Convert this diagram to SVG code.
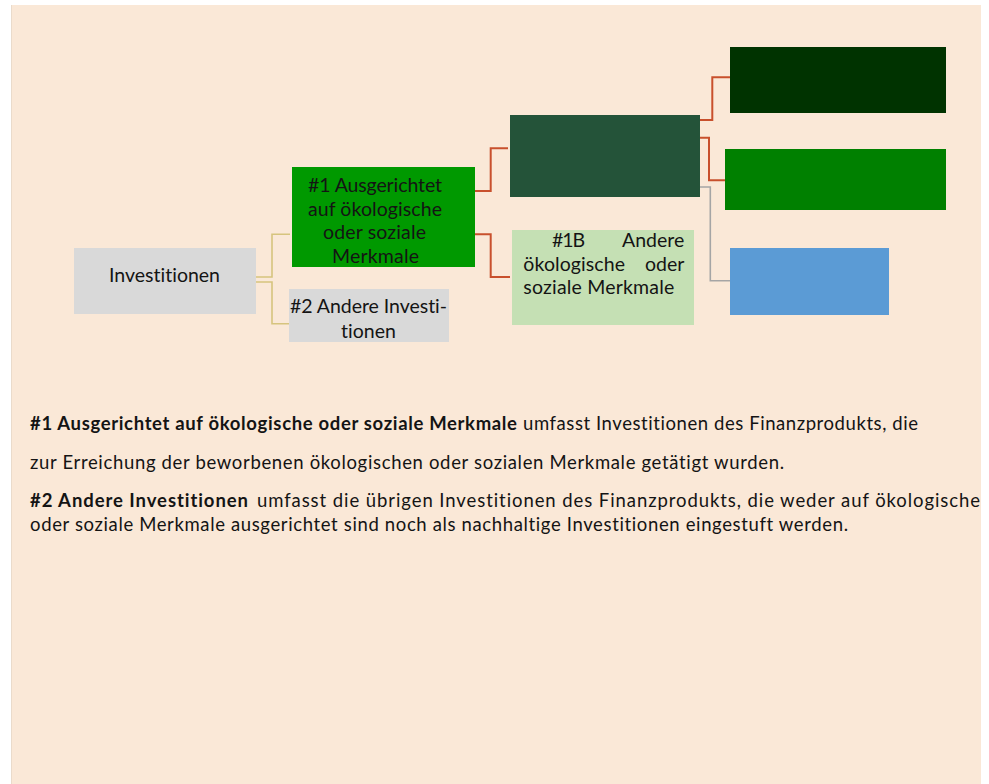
<svg xmlns="http://www.w3.org/2000/svg" width="989" height="784" viewBox="0 0 989 784">
<style>
.t{font-family:Lato,"Liberation Sans",sans-serif;fill:#141414;font-variant-ligatures:none}
.n{font-size:19.5px}
.p{font-size:18.5px}
.b{font-weight:bold}
.cr{fill:none;stroke:#C8502D;stroke-width:2}
.cy{fill:none;stroke:#D6C47E;stroke-width:1.6}
.cg{fill:none;stroke:#A5A5A5;stroke-width:1.6}
</style>
<rect x="0" y="0" width="989" height="784" fill="#ffffff"/>
<rect x="11" y="5" width="970" height="779" fill="#FAE8D7"/>
<line x1="11.5" y1="5" x2="11.5" y2="784" stroke="#EADBCB" stroke-width="1"/>
<g id="connectors">
<path class="cy" d="M256 277 H272 V234.3 H290"/>
<path class="cy" d="M256 282 H272 V323.7 H289"/>
<path class="cr" d="M475 191 H490.7 V148.3 H508"/>
<path class="cr" d="M475 234.3 H490.7 V277 H510"/>
<path class="cr" d="M700 120 H712.3 V77.3 H730"/>
<path class="cr" d="M700 137.7 H709 V180.3 H725"/>
<path class="cg" d="M700 187 H710.3 V280.7 H730"/>
</g>
<g id="node-investitionen">
<rect x="74" y="248" width="182" height="66" fill="#D9D9D9"/>
<text class="t n" x="109" y="282.3" textLength="111">Investitionen</text>
</g>
<g id="node-1">
<rect x="292" y="167" width="183" height="100" fill="#009900"/>
<text class="t n">
<tspan x="308" y="192.3" textLength="134">#1 Ausgerichtet</tspan>
<tspan x="308" y="215.7" textLength="134">auf ökologische</tspan>
<tspan x="323" y="239.3" textLength="103">oder soziale</tspan>
<tspan x="332" y="262.7" textLength="87">Merkmale</tspan>
</text>
</g>
<g id="node-2">
<rect x="289" y="289" width="160" height="53" fill="#D9D9D9"/>
<text class="t n" x="290" y="313.3" textLength="157">#2 Andere Investi-</text>
<text class="t n" x="341" y="338.3" textLength="55">tionen</text>
</g>
<g id="node-1a">
<rect x="510" y="115" width="190" height="82" fill="#245339"/>
</g>
<g id="node-1b">
<rect x="512" y="230" width="182" height="95" fill="#C5E0B4"/>
<text class="t n" x="552" y="247.3" textLength="33">#1B</text>
<text class="t n" x="684.3" y="247.3" text-anchor="end">Andere</text>
<text class="t n" x="523.3" y="271" textLength="101.7">ökologische</text>
<text class="t n" x="684.3" y="271" text-anchor="end">oder</text>
<text class="t n" x="523.3" y="294.3" textLength="151">soziale Merkmale</text>
</g>
<g id="node-taxonomy">
<rect x="730" y="47" width="216" height="66" fill="#003300"/>
</g>
<g id="node-other-env">
<rect x="725" y="149" width="221" height="61" fill="#008000"/>
</g>
<g id="node-social">
<rect x="730" y="248" width="159" height="67" fill="#5B9BD5"/>
</g>
<g id="legend">
<text class="t p" y="430"><tspan class="b" x="30" textLength="487">#1 Ausgerichtet auf ökologische oder soziale Merkmale</tspan><tspan x="523" textLength="395">umfasst Investitionen des Finanzprodukts, die</tspan></text>
<text class="t p" x="30" y="469" textLength="754">zur Erreichung der beworbenen ökologischen oder sozialen Merkmale getätigt wurden.</text>
<text class="t p" y="507"><tspan class="b" x="30" textLength="218">#2 Andere Investitionen</tspan><tspan x="257" textLength="723">umfasst die übrigen Investitionen des Finanzprodukts, die weder auf ökologische</tspan></text>
<text class="t p" x="30" y="531" textLength="818">oder soziale Merkmale ausgerichtet sind noch als nachhaltige Investitionen eingestuft werden.</text>
</g>
</svg>
